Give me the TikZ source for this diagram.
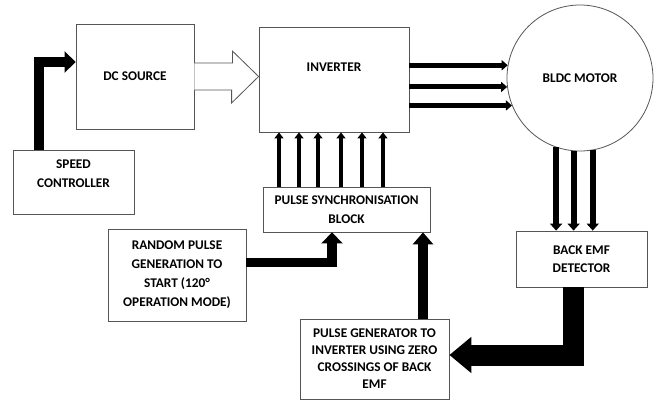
\documentclass[tikz,border=0pt]{standalone}
\usepackage{fontspec}
\setmainfont{Carlito}
\usetikzlibrary{arrows.meta, positioning}
\definecolor{clrLine} {HTML}{555555}
\definecolor{clrFlow} {HTML}{000000}
\tikzset{
  blk/.style = {
    rectangle, draw=clrLine, line width=0.8pt, fill=white,
    inner sep=2pt, align=center,
    font=\bfseries\fontsize{13.3}{19}\selectfont,
  },
  lbl/.style  = {align=center, inner sep=0pt,
                 font=\bfseries\fontsize{13.3}{19}\selectfont},
  % thin three-phase style links
  arr/.style  = {-{Triangle[length=6pt, width=10pt]}, line width=5pt, color=clrFlow},
  % thick bent signal arrows
  fat/.style  = {-{Triangle[length=11pt, width=21pt]}, line width=10pt,
                 color=clrFlow, line join=miter},
  fatter/.style = {-{Triangle[length=22pt, width=35pt]}, line width=21pt,
                   color=clrFlow, line join=miter},
  hollow/.style = {draw=clrLine, line width=0.8pt, fill=white, line join=miter},
}
\begin{document}
\begin{tikzpicture}[x=1pt, y=-1pt]

\useasboundingbox[fill=white] (0,0) rectangle (657,400);

% ══════════════════════════════════════════════════════════════════════
%  Blocks
% ══════════════════════════════════════════════════════════════════════

\node[blk, minimum width=118, minimum height=105] (dc)   at (135,  76.5) {DC SOURCE};
\node[blk, minimum width=150, minimum height=105] (inv)  at (334,  79.5) {};
\node[lbl]                                        (invtxt) at (334, 67) {INVERTER};
\node[blk, minimum width=121, minimum height=64]  (spd)  at (73.5, 182) {};
\node[lbl]                                        (spdtxt) at (73.5, 173.5) {SPEED\\CONTROLLER};
\node[blk, circle, minimum size=146]              (mot)  at (580,   78) {BLDC MOTOR};
\node[blk, minimum width=131, minimum height=56]  (bemf) at (581.5, 259) {BACK EMF\\[-1pt]DETECTOR};
\node[blk, minimum width=167, minimum height=45]  (sync) at (346.5, 209.5) {PULSE SYNCHRONISATION\\BLOCK};
\node[blk, minimum width=138, minimum height=92]  (rnd)  at (177,  275)
  {RANDOM PULSE\\GENERATION TO\\START (120°\\OPERATION MODE)};
\node[blk, minimum width=149, minimum height=80,
      font=\bfseries\fontsize{13.3}{17}\selectfont] (pgen) at (374.5, 359)
  {PULSE GENERATOR TO\\INVERTER USING ZERO\\CROSSINGS OF BACK\\EMF};

% ══════════════════════════════════════════════════════════════════════
%  Connectors
% ══════════════════════════════════════════════════════════════════════

% speed controller -> DC source (bent)
\draw[fat] ([xshift=-34.5pt]spd.north) |- ([yshift=14.5pt]dc.west);

% DC source => inverter, hollow block arrow
\draw[hollow]
  ([yshift=13.5pt]dc.east) -- ++(38,0) -- ++(0,-12)
  -- (inv.west |- dc.east)
  -- ++(-27,26.5) -- ++(0,-13)
  -- ([yshift=-13.5pt]dc.east);

% inverter -> motor, three phases
\foreach \a in {170.5, 187.1, 202.5}
  \draw[arr] (mot.\a -| inv.east) -- (mot.\a);

% motor -> back EMF detector
\foreach \a in {251.6, 265.3, 280.2}
  \draw[arr, line width=6pt, -{Triangle[length=7pt, width=12pt]}]
    (mot.\a) -- (mot.\a |- bemf.north);

% pulse synchronisation -> inverter gates
\foreach \x in {279, 299, 318, 341, 362, 383}
  \draw[arr, line width=4.5pt, -{Triangle[length=6pt, width=9pt]}]
    (\x,0 |- sync.north) -- (\x,0 |- inv.south);

% random pulse -> synchronisation (bent)
\draw[fat, line width=9.5pt] ([yshift=12.5pt]rnd.east) -| ([xshift=-14.5pt]sync.south);

% pulse generator -> synchronisation
\draw[fat, -{Triangle[length=12pt, width=20pt]}]
  ([xshift=48.5pt]pgen.north) -- ([xshift=48.5pt]pgen.north |- sync.south);

% back EMF detector -> pulse generator (bent, wide)
\draw[fatter] ([xshift=-8.5pt]bemf.south) |- ([yshift=4pt]pgen.east);

\end{tikzpicture}
\end{document}
